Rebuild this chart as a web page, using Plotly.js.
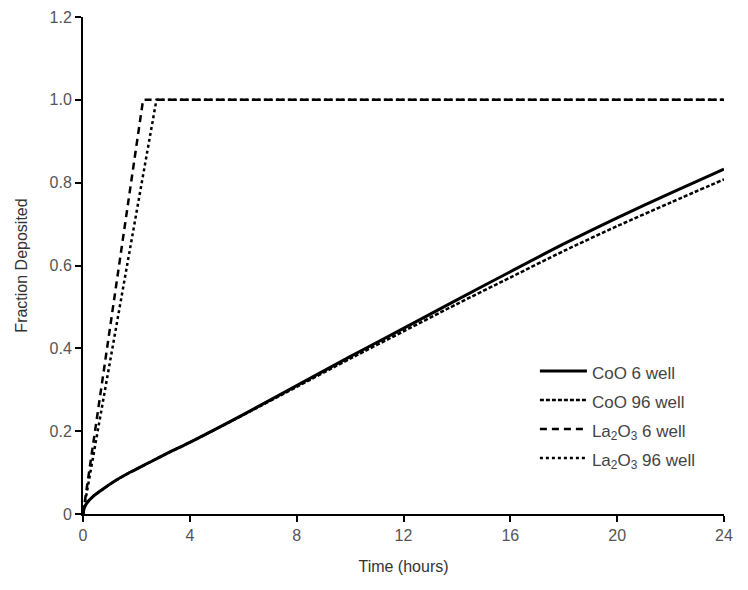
<!DOCTYPE html>
<html><head><meta charset="utf-8">
<script src="https://cdn.plot.ly/plotly-3.0.1.min.js"></script>
<style>body{margin:0;background:#fff}#chart{width:748px;height:590px}</style>
</head><body><div id="chart"></div>
<script>
const coo6_t = [0, 0.05, 0.15, 0.37, 0.7, 1.25, 1.8, 2.5, 3.2, 4, 6, 8, 10, 12, 14, 16, 18, 20, 22, 24];
const coo6_y = [0, 0.015, 0.027, 0.042, 0.058, 0.082, 0.102, 0.125, 0.148, 0.173, 0.24, 0.31, 0.38, 0.448, 0.517, 0.585, 0.652, 0.715, 0.775, 0.833];
const coo96_t = [0, 0.05, 0.15, 0.37, 0.7, 1.25, 1.8, 2.5, 3.2, 4, 6, 8, 10, 12, 14, 16, 18, 20, 22, 24];
const coo96_y = [0, 0.015, 0.027, 0.042, 0.058, 0.082, 0.102, 0.125, 0.148, 0.173, 0.239, 0.307, 0.375, 0.441, 0.507, 0.571, 0.635, 0.695, 0.752, 0.808];
const la6_t = [0, 2.25, 24];
const la6_y = [0, 1.0, 1.0];
const la96_t = [0, 2.75, 24];
const la96_y = [0, 1.0, 1.0];
const names = ["CoO 6 well", "CoO 96 well", "La<sub>2</sub>O<sub>3</sub> 6 well", "La<sub>2</sub>O<sub>3</sub> 96 well"];
const yTicks = [0, 0.2, 0.4, 0.6, 0.8, 1.0, 1.2];
const yTickText = ["0", "0.2", "0.4", "0.6", "0.8", "1.0", "1.2"];
const xTicks = [0, 4, 8, 12, 16, 20, 24];

const legName = n => '<span style="font-size:17px">' + n + '</span>';
const traces = [
  {x: coo6_t, y: coo6_y, name: legName(names[0]), mode: 'lines', line: {color: '#000', width: 3, shape: 'spline', smoothing: 0.8}},
  {x: coo96_t, y: coo96_y, name: legName(names[1]), mode: 'lines', line: {color: '#000', width: 2.5, dash: '4px,2px', shape: 'spline', smoothing: 0.8}},
  {x: la6_t, y: la6_y, name: legName(names[2]), mode: 'lines', line: {color: '#000', width: 2.5, dash: '7px,5px'}},
  {x: la96_t, y: la96_y, name: legName(names[3]), mode: 'lines', line: {color: '#000', width: 2.5, dash: 'dot'}}
];
const layout = {
  width: 748, height: 590,
  margin: {l: 83, r: 24, t: 17, b: 76},
  paper_bgcolor: '#fff', plot_bgcolor: '#fff',
  font: {family: 'Liberation Sans, Arial, sans-serif', color: '#444', size: 16},
  showlegend: true,
  legend: {x: 0.705, y: 0.327, xanchor: 'left', yanchor: 'top', bgcolor: 'rgba(0,0,0,0)',
    font: {size: 20, color: '#444'}, tracegroupgap: 0, itemwidth: 47},
  xaxis: {range: [0, 24], tickvals: xTicks, ticks: 'outside', ticklen: 6, tickwidth: 2, tickcolor: '#000',
    showline: true, linecolor: '#000', linewidth: 2, showgrid: false, zeroline: false,
    title: {text: 'Time (hours)', font: {size: 16, color: '#333'}, standoff: 18},
    tickfont: {size: 16, color: '#555'}},
  yaxis: {range: [0, 1.2], tickvals: yTicks, ticktext: yTickText, ticks: 'outside', ticklen: 6, tickwidth: 2, tickcolor: '#000',
    showline: true, linecolor: '#000', linewidth: 2, showgrid: false, zeroline: false,
    title: {text: 'Fraction Deposited', font: {size: 16, color: '#333'}, standoff: 18},
    tickfont: {size: 16, color: '#555'}}
};
Plotly.newPlot('chart', traces, layout, {displayModeBar: false, staticPlot: true});
</script></body></html>
